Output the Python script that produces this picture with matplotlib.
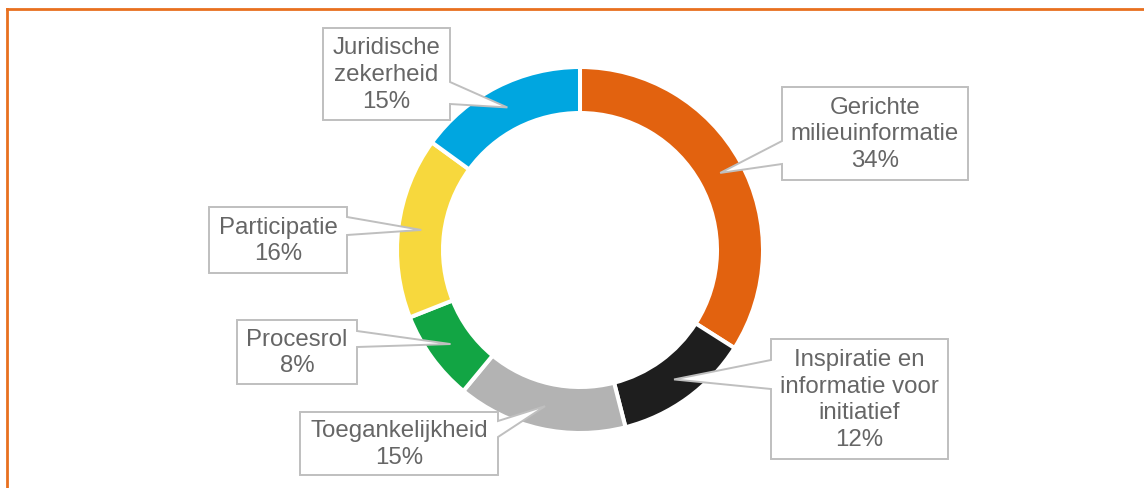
import numpy as np
import matplotlib.pyplot as plt
from matplotlib.patches import Polygon
from matplotlib.lines import Line2D

plt.rcParams['font.family'] = ['Liberation Sans', 'DejaVu Sans']

# data
labels = ["Gerichte\nmilieuinformatie", "Inspiratie en\ninformatie voor\ninitiatief",
          "Toegankelijkheid", "Procesrol", "Participatie", "Juridische\nzekerheid"]
shares = [34, 12, 15, 8, 16, 15]
colors = ["#E2620F", "#1E1E1E", "#B3B3B3", "#12A544", "#F7D83D", "#00A6E0"]

W, H = 1144, 489
# callout boxes in pixels (top-down): x0, y0, x1, y1, pointer side, base start, base end
boxes = [
    (782, 88, 968, 181, "left", 142, 165),
    (771, 340, 948, 460, "left", 361, 390),
    (300, 413, 498, 476, "right", 422, 438),
    (237, 321, 357, 385, "right", 332, 348),
    (209, 208, 347, 274, "right", 218, 236),
    (323, 29, 450, 121, "right", 83, 105),
]

fig = plt.figure(figsize=(W / 100, H / 100), dpi=100)
ax = fig.add_axes([0, 0, 1, 1])

cx, cy = 580, H - 251
R, ring = 183, 46
wedges, _ = ax.pie(shares, colors=colors, startangle=90, counterclock=False,
                   radius=R, center=(cx, cy),
                   wedgeprops=dict(width=ring, edgecolor="white", linewidth=2.9))
ax.set_xlim(0, W)
ax.set_ylim(0, H)
ax.set_aspect("auto")
ax.axis("off")


def flip(pts):
    return [(x, H - y) for x, y in pts]


for w, box, lab, s in zip(wedges, boxes, labels, shares):
    mid = np.deg2rad((w.theta1 + w.theta2) / 2)
    rm = R - ring / 2
    tip = (cx + rm * np.cos(mid), cy + rm * np.sin(mid))
    x0, y0, x1, y1, side, b0, b1 = box
    if side == "right":
        pts = flip([(x0, y0), (x1, y0), (x1, b0)]) + [tip] + flip([(x1, b1), (x1, y1), (x0, y1)])
    else:
        pts = flip([(x0, y0), (x1, y0), (x1, y1), (x0, y1), (x0, b1)]) + [tip] + flip([(x0, b0)])
    ax.add_patch(Polygon(pts, closed=True, facecolor="white", edgecolor="#BFBFBF",
                         linewidth=1.4, zorder=5))
    ax.text((x0 + x1) / 2, H - (y0 + y1) / 2, f"{lab}\n{s}%", ha="center", va="center",
            multialignment="center", fontsize=17.3, color="#666666", linespacing=1.28, zorder=6)

# orange frame around the chart (cut at the right and bottom)
fig.add_artist(Line2D([7 / W, 1], [1 - 10 / H, 1 - 10 / H], color="#E8701F", linewidth=2))
fig.add_artist(Line2D([7 / W, 7 / W], [0, 1 - 10 / H], color="#E8701F", linewidth=2))

fig.savefig("out.png", dpi=100)
